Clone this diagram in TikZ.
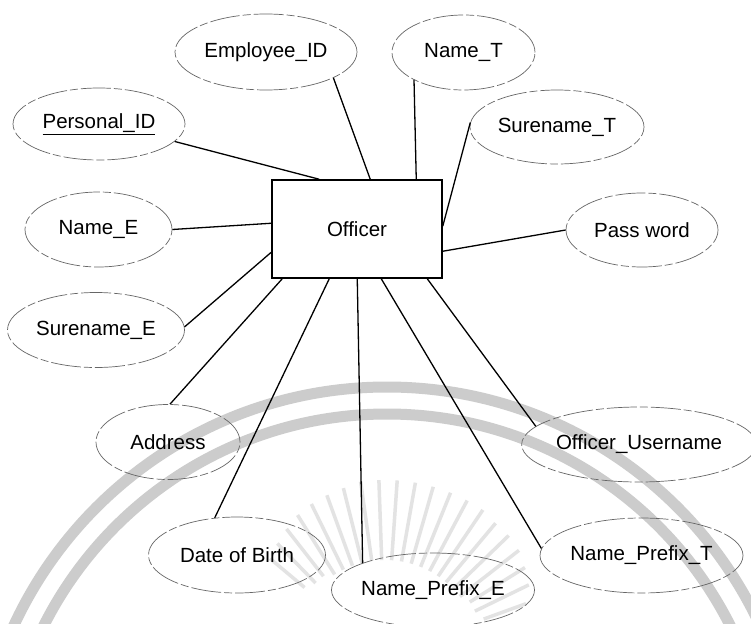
\documentclass[tikz,border=0pt]{standalone}
\usepackage{fontspec}
\setmainfont{Liberation Sans}
\usetikzlibrary{shapes.geometric,calc}
\begin{document}
\begin{tikzpicture}[x=1pt,y=-1pt,
  attr/.style={ellipse,draw=black!60,dash pattern=on 30pt off 3pt on 8pt off 3pt,
    line width=0.7pt,inner sep=0pt,font=\fontsize{20.5}{24}\selectfont},
  entity/.style={rectangle,draw=black,line width=1.5pt,inner sep=0pt,
    minimum width=170pt,minimum height=98pt,font=\fontsize{20.5}{24}\selectfont},
  link/.style={draw=black,line width=1.3pt},
  sealarc/.style={draw=black!20,line width=11pt},
  sealray/.style={draw=black!11,line width=3.5pt}]
\useasboundingbox (0,0) rectangle (751,623);
\fill[white] (0,0) rectangle (751,623);
% faint background seal
\begin{scope}
\clip (0,0) rectangle (751,623);
\draw[sealarc] (387,798) circle[radius=411];
\draw[sealarc] (387,798) circle[radius=384];
\foreach \a/\ri/\ro in {20/105/150,26/100/160,32/100/165,38/95/170,44/95/172,50/95/172,
  56/95/175,62/95/175,68/95/175,74/95/175,80/95/175,86/95/175,92/95/175,98/95/175,
  104/95/172,110/95/170,116/95/168,122/95/165,128/100/160,134/100/155,140/105/150}
  \draw[sealray] (385,655) ++(-\a:\ri) -- ++(-\a:\ro-\ri);
\end{scope}
% entity
\node[entity] (off) at (357,229) {Officer};
% attributes
\node[attr,minimum width=182pt,minimum height=76pt] (emp) at (266,52) {Employee\_ID};
\node[attr,minimum width=143pt,minimum height=75pt] (nt) at (463.5,52.5) {Name\_T};
\node[attr,minimum width=172pt,minimum height=72pt] (pid) at (99,124) {\underline{Personal\_ID}};
\node[attr,minimum width=174pt,minimum height=74pt] (st) at (557,127) {Surename\_T};
\node[attr,minimum width=147pt,minimum height=75pt] (ne) at (98.5,229.5) {Name\_E};
\node[attr,minimum width=152pt,minimum height=74pt] (pw) at (642,230) {Pass word};
\node[attr,minimum width=177pt,minimum height=75pt] (se) at (96,330) {Surename\_E};
\node[attr,minimum width=144pt,minimum height=75pt] (ad) at (168,442) {Address};
\node[attr,minimum width=177pt,minimum height=76pt] (db) at (237,555) {Date of Birth};
\node[attr,minimum width=200pt,minimum height=74pt] (npe) at (433,590) {Name\_Prefix\_E};
\node[attr,minimum width=222pt,minimum height=75pt] (ou) at (639,444.5) {Officer\_Username};
\node[attr,minimum width=203pt,minimum height=75pt] (npt) at (641.5,555.5) {Name\_Prefix\_T};
% connection points on the entity box
\coordinate (cPid) at ($(off.north west)+(48,0)$);
\coordinate (cEmp) at ($(off.north west)+(99,0)$);
\coordinate (cNt)  at ($(off.north west)+(145,0)$);
\coordinate (cSt)  at ($(off.north east)+(0,47)$);
\coordinate (cPw)  at ($(off.north east)+(0,72)$);
\coordinate (cNe)  at ($(off.north west)+(0,44)$);
\coordinate (cSe)  at ($(off.north west)+(0,73)$);
\coordinate (cAd)  at ($(off.south west)+(11,0)$);
\coordinate (cDb)  at ($(off.south west)+(58,0)$);
\coordinate (cNpe) at ($(off.south west)+(86,0)$);
\coordinate (cNpt) at ($(off.south west)+(110,0)$);
\coordinate (cOu)  at ($(off.south west)+(156,0)$);
% connectors
\draw[link] (cPid) -- (pid.-13);
\draw[link] (cEmp) -- (emp.-21);
\draw[link] (cNt) -- (nt.209);
\draw[link] (cSt) -- (st.177);
\draw[link] (cPw) -- (pw.west);
\draw[link] (cNe) -- (ne.east);
\draw[link] (cSe) -- (se.2);
\draw[link] (cAd) -- (ad.87);
\draw[link] (cDb) -- (db.121);
\draw[link] (cNpe) -- (npe.159);
\draw[link] (cNpt) -- (npt.176);
\draw[link] (cOu) -- (ou.170);
\end{tikzpicture}
\end{document}
